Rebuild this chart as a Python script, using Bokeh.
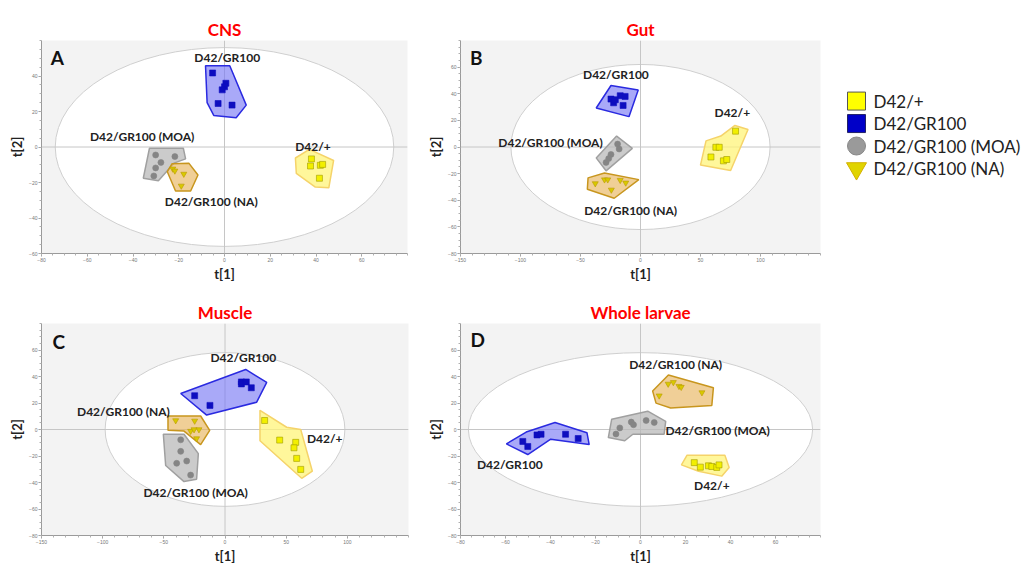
from bokeh.plotting import figure
from bokeh.layouts import row, column
from bokeh.models import Range1d, FixedTicker
from bokeh.core.properties import value
from bokeh.embed import file_html
from bokeh.resources import INLINE

# ---------------- data ----------------
GROUPS = ["D42/+", "D42/GR100", "D42/GR100 (MOA)", "D42/GR100 (NA)"]

# Panel A - CNS
CNS_xrange = (-80, 80)
CNS_yrange = (-60, 60)
CNS_xticks = [-80, -60, -40, -20, 0, 20, 40, 60]
CNS_yticks = [-60, -40, -20, 0, 20, 40]
CNS_ellipse = (74, 56)
CNS_D42_pts = [(38, -6.7), (37.6, -10.7), (41.9, -10.3), (42.9, -9.8), (41.5, -17.6)]
CNS_D42_hull = [(31, -6.2), (37.1, -1.3), (47.7, -7.6), (45.6, -23), (39.7, -22.6), (31.4, -14.9)]
CNS_GR_pts = [(-5.2, 41.7), (0.6, 35.9), (0, 33.9), (-1, 32.2), (-2.8, 24.5), (3.3, 23.6)]
CNS_GR_hull = [(-8.3, 45.8), (2.3, 45.8), (9.5, 23.6), (5.1, 16.5), (-4.7, 17.8), (-7.6, 25)]
CNS_MOA_pts = [(-30.1, -4.5), (-21.7, -5.4), (-27.8, -8.7), (-30.1, -11.8), (-30.9, -16.3)]
CNS_MOA_hull = [(-32.8, -0.7), (-18, -0.7), (-17, -6.7), (-22.1, -9.1), (-28.9, -19), (-35.5, -17.6)]
CNS_NA_pts = [(-22.6, -12.3), (-21.7, -13.4), (-17.8, -15.2), (-18.9, -21.9)]
CNS_NA_hull = [(-22.9, -9.4), (-15.6, -9.1), (-11.6, -15.8), (-14.8, -24.8), (-21.4, -24.8), (-25, -13.9)]
CNS_label_pos = [(38.7, 0.2), (1.2, 50.4), (-36, 6), (-5.8, -30.6)]
CNS_letter = ("A", -76, 50.5)
CNS_title = "CNS"

# Panel B - Gut
GUT_xrange = (-150, 150)
GUT_yrange = (-80, 80)
GUT_xticks = [-150, -100, -50, 0, 50, 100]
GUT_yticks = [-80, -60, -40, -20, 0, 20, 40, 60]
GUT_ellipse = (108, 62)
GUT_D42_pts = [(79.2, 11.9), (62.8, -0.2), (65.6, -0.2), (58.7, -7.5), (69.1, -10.4), (71.9, -9.4)]
GUT_D42_hull = [(78.7, 16.2), (89.6, 13.1), (75.1, -17.7), (50, -13.6), (54.6, 4.6), (66.9, 8.2)]
GUT_GR_pts = [(-24.6, 36), (-22.4, 33.2), (-16.9, 38.5), (-12.8, 38), (-14.5, 31.2), (-21, 35.5)]
GUT_GR_hull = [(-24.6, 46.2), (-1.9, 42.8), (-9.6, 22.8), (-36.9, 29.3)]
GUT_MOA_pts = [(-19.1, 2.2), (-17.8, -1.5), (-24.6, -5.6), (-26.5, -8.7), (-28.7, -11.6)]
GUT_MOA_hull = [(-19.9, 8.2), (-6.8, -1), (-28.7, -17.9), (-36.9, -8.2)]
GUT_NA_pts = [(-37.7, -27.4), (-30, -24.5), (-27.3, -24.5), (-16.9, -24.9), (-12.3, -26.9), (-24.3, -32.2)]
GUT_NA_hull = [(-43.7, -23.2), (-30, -19.6), (-1.4, -24.5), (-21.9, -38.5), (-44.3, -31.7)]
GUT_label_pos = [(76.5, 26), (-20.5, 54.2), (-75, 3.4), (-8.2, -48)]
GUT_letter = ("B", -142, 67.5)
GUT_title = "Gut"

# Panel C - Muscle
MUS_xrange = (-150, 150)
MUS_yrange = (-80, 80)
MUS_xticks = [-150, -100, -50, 0, 50, 100]
MUS_yticks = [-80, -60, -40, -20, 0, 20, 40, 60]
MUS_ellipse = (98, 58)
MUS_D42_pts = [(32.4, 6.8), (44.7, -8), (57.8, -9.7), (56.4, -13.8), (58.6, -21.8), (61.9, -30.1)]
MUS_D42_hull = [(28.6, 14.5), (50.4, 1.7), (61.9, 0), (71.4, -31.5), (62.7, -36.8), (28.6, -8.5)]
MUS_GR_pts = [(-24.8, 25.5), (-12.3, 18.2), (13.4, 35.9), (13.4, 34.4), (17.4, 35.9), (21.5, 31.5)]
MUS_GR_hull = [(-36.2, 27.2), (16.9, 45.3), (34.1, 35.6), (25.9, 20.6), (-15, 10.9)]
MUS_MOA_pts = [(-36.2, -7.8), (-36.2, -16.5), (-31.3, -23.8), (-39.5, -25.5), (-28.1, -34.4)]
MUS_MOA_hull = [(-50.4, -3.6), (-33.5, -3.6), (-21.8, -18.2), (-23.2, -37.6), (-33.5, -39.3), (-48.5, -27.2)]
MUS_NA_pts = [(-40.3, 6.8), (-24.8, 6.5), (-28.1, -1.2), (-25.3, 0), (-21.3, 0), (-23.2, -6.8)]
MUS_NA_hull = [(-46.6, 10.2), (-19.9, 10.2), (-12.5, -0.7), (-19.9, -11.4), (-33.5, -1.2), (-46.6, -0.5)]
MUS_label_pos = [(81.5, -6.8), (15, 54.5), (-24, -47.3), (-83, 13.8)]
MUS_letter = ("C", -141, 66.7)
MUS_title = "Muscle"

# Panel D - Whole larvae
WHL_xrange = (-80, 80)
WHL_yrange = (-80, 80)
WHL_xticks = [-80, -60, -40, -20, 0, 20, 40, 60]
WHL_yticks = [-80, -60, -40, -20, 0, 20, 40, 60]
WHL_ellipse = (76.5, 58)
WHL_D42_pts = [(23.9, -25), (26.6, -28.4), (30.2, -27.4), (31.7, -27.9), (33.9, -28.6), (34.9, -26.7)]
WHL_D42_hull = [(20.7, -19.4), (37.5, -19.4), (39.4, -28.6), (36.1, -35.2), (25.8, -31.5), (18.2, -26.7)]
WHL_GR_pts = [(-52.3, -9), (-50.1, -12.8), (-46, -4.1), (-44.2, -3.6), (-33.3, -3.6), (-27.7, -6.8)]
WHL_GR_hull = [(-59.6, -10.9), (-50.8, -1.9), (-38, 5.3), (-23.8, -2.4), (-22.8, -11.4), (-39.9, -7.3), (-50.1, -18.9)]
WHL_MOA_pts = [(-10.9, -3.4), (-9.2, 1.2), (-4.1, 5.6), (-3.1, 3.6), (2.5, 6.8), (6.1, 5.3)]
WHL_MOA_hull = [(-12.8, 7.8), (3.2, 13.8), (11.2, 6.1), (10.5, -3.6), (-3.4, -3.6), (-7, -8.5), (-14.3, -6.1)]
WHL_NA_pts = [(8.3, 25.5), (12.3, 34.4), (14.6, 35.6), (17.1, 32.7), (18.1, 32), (27.3, 27.9)]
WHL_NA_hull = [(5.4, 29.1), (12.4, 41.2), (32.4, 31.5), (31.7, 18.2), (13.4, 16.2), (6.9, 19.9)]
WHL_label_pos = [(31.7, -42.4), (-58.1, -26.2), (34.3, -0.7), (15.6, 49)]
WHL_letter = ("D", -75.6, 67.9)
WHL_title = "Whole larvae"

# ---------------- styles ----------------
STYLE = {
    "D42/+": dict(marker="square", pt_fill="#f2ef00", pt_line="#a09a00", hull_fill="#fff47a",
                  hull_alpha=0.75, hull_line="#f5d36a"),
    "D42/GR100": dict(marker="square", pt_fill="#0d0dbf", pt_line="#0d0dbf", hull_fill="#7b7bf5",
                      hull_alpha=0.65, hull_line="#2a2ae0"),
    "D42/GR100 (MOA)": dict(marker="circle", pt_fill="#858585", pt_line="#858585", hull_fill="#b9b9b9",
                            hull_alpha=0.75, hull_line="#a0a0a0"),
    "D42/GR100 (NA)": dict(marker="inverted_triangle", pt_fill="#d9c900", pt_line="#b89a00",
                           hull_fill="#e8b660", hull_alpha=0.65, hull_line="#c8961e"),
}
FONT = "Lato"


def make_panel(title, letter, xr, yr, xticks, yticks, ell, groups, label_pos,
               width, height, bl, br, bt, bb, xstep, ystep):
    p = figure(width=width, height=height, x_range=Range1d(*xr), y_range=Range1d(*yr),
               toolbar_location=None, output_backend="svg",
               min_border_left=bl, min_border_right=br, min_border_top=bt, min_border_bottom=bb)
    p.background_fill_color = "#f3f3f3"
    p.border_fill_color = "white"
    p.outline_line_color = None
    p.grid.visible = False

    p.title.text = title
    p.title.align = "center"
    p.title.text_color = "#ff0000"
    p.title.text_font = FONT
    p.title.text_font_size = "17px"
    p.title.text_font_style = "bold"
    p.title.standoff = 2

    for ax, ticks, step, lab in ((p.xaxis[0], xticks, xstep, "t[1]"), (p.yaxis[0], yticks, ystep, "t[2]")):
        minors = []
        t0 = ticks[0]
        end = xr[1] if lab == "t[1]" else yr[1]
        v = t0
        while v <= end:
            minors.append(v)
            v += step
        ax.ticker = FixedTicker(ticks=ticks, minor_ticks=minors)
        ax.axis_label = lab
        ax.axis_label_text_font = FONT
        ax.axis_label_text_font_style = "bold"
        ax.axis_label_text_font_size = "13px"
        ax.axis_label_text_color = "#222222"
        ax.axis_label_standoff = 1
        ax.major_label_text_font_size = "5px"
        ax.major_label_text_color = "#777777"
        ax.major_label_standoff = 1
        ax.axis_line_color = "#9a9a9a"
        ax.major_tick_line_color = "#9a9a9a"
        ax.minor_tick_line_color = "#b0b0b0"
        ax.major_tick_in = 0
        ax.major_tick_out = 3
        ax.minor_tick_in = 0
        ax.minor_tick_out = 2

    # Hotelling ellipse
    p.ellipse(x=[0], y=[0], width=[2 * ell[0]], height=[2 * ell[1]],
              fill_color="white", line_color="#cfcfcf", line_width=1)
    # zero lines
    p.line(x=[xr[0], xr[1]], y=[0, 0], line_color="#c6c6c6", line_width=1)
    p.line(x=[0, 0], y=[yr[0], yr[1]], line_color="#c6c6c6", line_width=1)

    for g, (pts, hull) in zip(GROUPS, groups):
        s = STYLE[g]
        p.patch(x=[h[0] for h in hull], y=[h[1] for h in hull], fill_color=s["hull_fill"],
                fill_alpha=s["hull_alpha"], line_color=s["hull_line"], line_width=1.5)
    for g, (pts, hull) in zip(GROUPS, groups):
        s = STYLE[g]
        p.scatter(x=[q[0] for q in pts], y=[q[1] for q in pts], marker=s["marker"], size=6,
                  fill_color=s["pt_fill"], line_color=s["pt_line"], line_width=0.6)

    p.text(x=[q[0] for q in label_pos], y=[q[1] for q in label_pos], text=GROUPS,
           text_font=value(FONT), text_font_style="bold", text_font_size="12px",
           text_align="center", text_baseline="middle", text_color="#222222")
    p.text(x=[letter[1]], y=[letter[2]], text=[letter[0]], text_font=value(FONT),
           text_font_style="bold", text_font_size="19px", text_align="left",
           text_baseline="middle", text_color="#111111")
    return p


pA = make_panel(CNS_title, CNS_letter, CNS_xrange, CNS_yrange, CNS_xticks, CNS_yticks, CNS_ellipse,
                [(CNS_D42_pts, CNS_D42_hull), (CNS_GR_pts, CNS_GR_hull),
                 (CNS_MOA_pts, CNS_MOA_hull), (CNS_NA_pts, CNS_NA_hull)],
                CNS_label_pos, 425, 284, 41, 18, 38, 26, 5, 5)
pB = make_panel(GUT_title, GUT_letter, GUT_xrange, GUT_yrange, GUT_xticks, GUT_yticks, GUT_ellipse,
                [(GUT_D42_pts, GUT_D42_hull), (GUT_GR_pts, GUT_GR_hull),
                 (GUT_MOA_pts, GUT_MOA_hull), (GUT_NA_pts, GUT_NA_hull)],
                GUT_label_pos, 400, 284, 32, 5, 40, 24, 10, 5)
pC = make_panel(MUS_title, MUS_letter, MUS_xrange, MUS_yrange, MUS_xticks, MUS_yticks, MUS_ellipse,
                [(MUS_D42_pts, MUS_D42_hull), (MUS_GR_pts, MUS_GR_hull),
                 (MUS_MOA_pts, MUS_MOA_hull), (MUS_NA_pts, MUS_NA_hull)],
                MUS_label_pos, 425, 282, 41, 17, 39, 23, 10, 5)
pD = make_panel(WHL_title, WHL_letter, WHL_xrange, WHL_yrange, WHL_xticks, WHL_yticks, WHL_ellipse,
                [(WHL_D42_pts, WHL_D42_hull), (WHL_GR_pts, WHL_GR_hull),
                 (WHL_MOA_pts, WHL_MOA_hull), (WHL_NA_pts, WHL_NA_hull)],
                WHL_label_pos, 400, 282, 34, 5, 39, 23, 5, 5)

# ---------------- legend ----------------
# the legend figure's frame is aligned with the panels' frames in the row (about 38..256 px)
LEG_rows = [100, 123, 146, 169]
pL = figure(width=202, height=284, x_range=Range1d(0, 202), y_range=Range1d(256, 38),
            toolbar_location=None, output_backend="svg", min_border=0,
            x_axis_location=None, y_axis_location=None)
pL.grid.visible = False
pL.outline_line_color = None
pL.background_fill_color = "white"
leg_fill = ["#ffff00", "#0000c8", "#9a9a9a", "#e0d400"]
leg_line = ["#555555", "#222266", "#888888", "#d4b000"]
leg_marker = ["square", "square", "circle", "inverted_triangle"]
for yy, f, l, m in zip(LEG_rows, leg_fill, leg_line, leg_marker):
    pL.scatter(x=[31], y=[yy], marker=m, size=18 if m != "inverted_triangle" else 20,
               fill_color=f, line_color=l, line_width=1)
pL.text(x=[48] * 4, y=LEG_rows, text=GROUPS, text_font=value(FONT), text_font_size="17px",
        text_align="left", text_baseline="middle", text_color="#222222")

layout = column(row(pA, pB, pL), row(pC, pD))
open("out.html", "w").write(file_html(layout, INLINE))
